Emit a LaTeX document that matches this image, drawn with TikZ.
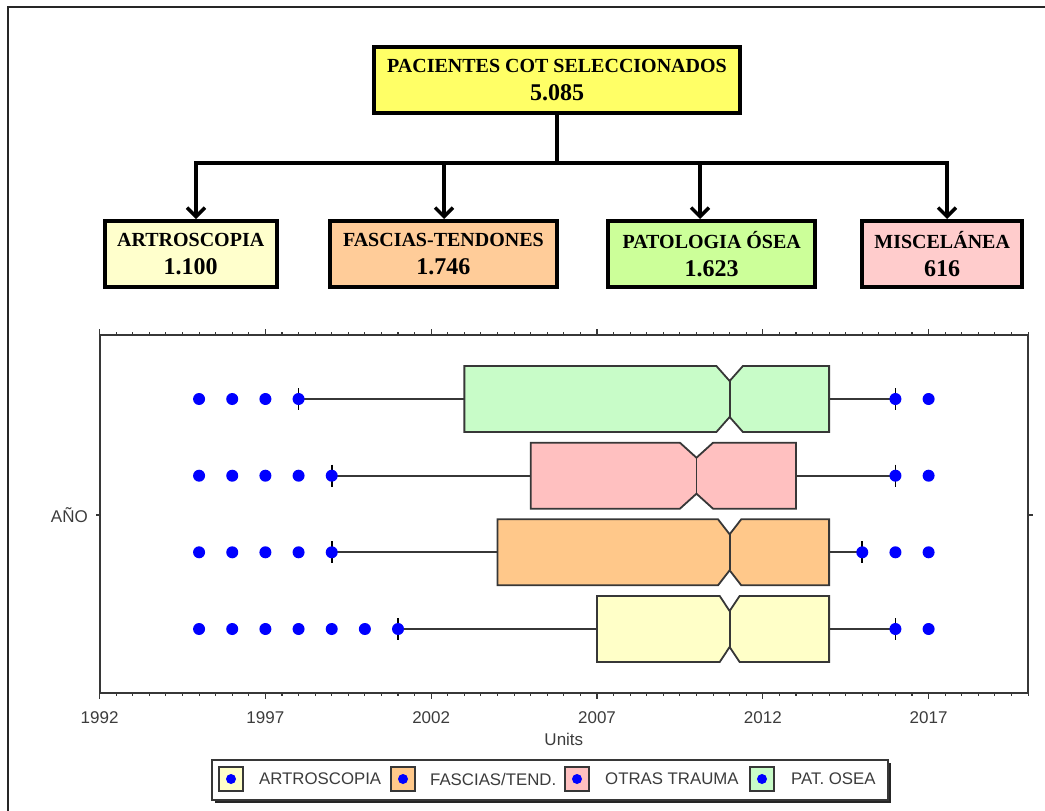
\documentclass[tikz,border=0pt]{standalone}
\usepackage{fontspec}
\setmainfont{Liberation Serif}
\newfontfamily\arialf{Liberation Sans}
\usetikzlibrary{arrows.meta}
\definecolor{topY}{RGB}{255,255,102}
\definecolor{fArt}{RGB}{255,255,204}
\definecolor{fFas}{RGB}{255,204,153}
\definecolor{fPat}{RGB}{204,255,153}
\definecolor{fMis}{RGB}{255,204,204}
\definecolor{bGreen}{RGB}{200,252,200}
\definecolor{bPink}{RGB}{255,192,192}
\definecolor{bOrange}{RGB}{255,200,138}
\definecolor{bYellow}{RGB}{255,255,200}
\definecolor{axcol}{RGB}{55,55,55}
\definecolor{txtcol}{RGB}{60,60,60}
\definecolor{dotblue}{RGB}{0,0,255}
\newcommand\nbox[8]{%
  \draw[whisk] (#7,#2) -- (#3,#2) (#4,#2) -- (#8,#2);
  \draw[boxline, fill=#1] (#3,{#2-33}) -- ({#5-#6},{#2-33}) -- (#5,{#2-18}) -- ({#5+#6},{#2-33}) -- (#4,{#2-33})
     -- (#4,{#2+33}) -- ({#5+#6},{#2+33}) -- (#5,{#2+18}) -- ({#5-#6},{#2+33}) -- (#3,{#2+33}) -- cycle;
  \draw[boxline] (#5,{#2-18}) -- (#5,{#2+18});
  \draw[wtick] (#7,{#2-11}) -- (#7,{#2+11}) (#8,{#2-11}) -- (#8,{#2+11});
}
\newcommand\bdots[2]{\foreach \yr in {#2} {\fill[dotblue] (\yr,#1) circle (6pt);}}
\newcommand\numtxt[1]{{\fontsize{24}{28}\selectfont #1}}
\begin{document}
\begin{tikzpicture}[x=1pt,y=-1pt,
  flowbox/.style={draw=black, line width=4pt, inner sep=0pt, align=center, text=black,
    font=\fontsize{20}{28}\selectfont\bfseries},
  conn/.style={line width=3.5pt, black},
  arr/.style={conn, line cap=rect, -{Straight Barb[length=9pt,width=18pt,line width=3.5pt]}},
  axisline/.style={line width=1.8pt, axcol},
  tickline/.style={line width=1.1pt, axcol},
  whisk/.style={line width=1.8pt, axcol},
  boxline/.style={line width=1.8pt, axcol, line join=miter},
  wtick/.style={line width=1.8pt, black},
  ylab/.style={font=\arialf\fontsize{17}{17}\selectfont, text=txtcol, inner sep=0pt},
  legtxt/.style={font=\arialf\fontsize{16.8}{17}\selectfont, text=txtcol, inner sep=0pt, anchor=west},
  swatch/.style={draw=axcol, line width=1.2pt, minimum width=24pt, minimum height=24pt, inner sep=0pt}
]
\useasboundingbox (0,0) rectangle (1045,811);
% outer frame
\draw[line width=2pt, black!85] (8,811) -- (8,7) -- (1045,7);

% flowchart
\node[flowbox, fill=topY, minimum width=366pt, minimum height=66pt] (top) at (557,80)
  {PACIENTES COT SELECCIONADOS\\\numtxt{5.085}};
\node[flowbox, fill=fArt, minimum width=172pt, minimum height=66pt] (b1) at (190.7,254)
  {ARTROSCOPIA\\\numtxt{1.100}};
\node[flowbox, fill=fFas, minimum width=227pt, minimum height=66pt] (b2) at (443.4,254)
  {FASCIAS-TENDONES\\\numtxt{1.746}};
\node[flowbox, fill=fPat, minimum width=207pt, minimum height=66pt] (b3) at (711.7,254)
  {PATOLOGIA ÓSEA\\\numtxt{1.623}};
\node[flowbox, fill=fMis, minimum width=160pt, minimum height=66pt] (b4) at (942.2,254)
  {MISCELÁNEA\\\numtxt{616}};

\coordinate (j0) at (557,163);
\coordinate (a1) at (196,163);
\coordinate (a2) at (444,163);
\coordinate (a3) at (700,163);
\coordinate (a4) at (947,163);
\draw[conn] (top.south) -- (j0);
\draw[conn] (a1) -- (a4);
\draw[arr] (a1) -- (b1.north -| a1);
\draw[arr] (a2) -- (b2.north -| a2);
\draw[arr] (a3) -- (b3.north -| a3);
\draw[arr] (a4) -- (b4.north -| a4);

% chart
\begin{scope}[shift={(99.6,0)}, x=33.16pt]
  \foreach \i in {0,...,56} {
    \pgfmathsetmacro\tl{mod(\i,10)==0 ? 6 : 3}
    \draw[tickline] (\i/2,335) -- (\i/2,{335-\tl});
    \draw[tickline] (\i/2,693) -- (\i/2,{693+\tl});
  }
  \draw[tickline] (0,515) -- ++(-4pt,0pt);
  \draw[tickline] (28,515) -- ++(5pt,0pt);
  \draw[axisline] (0,335) rectangle (28,693);

  \nbox{bGreen}{399}{11}{22}{19}{0.4}{6}{24}
  \bdots{399}{3,4,5,6,24,25}
  \nbox{bPink}{475.7}{13}{21}{18}{0.5}{7}{24}
  \bdots{475.7}{3,4,5,6,7,24,25}
  \nbox{bOrange}{552.3}{12}{22}{19}{0.35}{7}{23}
  \bdots{552.3}{3,4,5,6,7,23,24,25}
  \nbox{bYellow}{629}{15}{22}{19}{0.3}{9}{24}
  \bdots{629}{3,4,5,6,7,8,9,24,25}

  \node[ylab] (t1992) at (0,718) {1992};
  \node[ylab] (t1997) at (5,718) {1997};
  \node[ylab] (t2002) at (10,718) {2002};
  \node[ylab] (t2007) at (15,718) {2007};
  \node[ylab] (t2012) at (20,718) {2012};
  \node[ylab] (t2017) at (25,718) {2017};
  \node[ylab] (units) at (14,739) {Units};
  \node[ylab, anchor=east] (ano) at (-0.35,515) {AÑO};
\end{scope}

% legend
\fill[black!85] (215,763) rectangle (891,803);
\node[draw=axcol, line width=1.2pt, fill=white, minimum width=676pt, minimum height=40pt, inner sep=0pt] (legend) at (550,780) {};
\node[swatch, fill=bYellow] (s1) at (231,779) {};
\node[swatch, fill=bOrange] (s2) at (403,779) {};
\node[swatch, fill=bPink] (s3) at (577,779) {};
\node[swatch, fill=bGreen] (s4) at (762,779) {};
\foreach \s in {s1,s2,s3,s4} {\fill[dotblue] (\s) circle (5pt);}
\node[legtxt] (l1) at (259,779) {ARTROSCOPIA};
\node[legtxt] (l2) at (430,779) {FASCIAS/TEND.};
\node[legtxt] (l3) at (605,779) {OTRAS TRAUMA};
\node[legtxt] (l4) at (791,779) {PAT. OSEA};
\end{tikzpicture}
\end{document}
